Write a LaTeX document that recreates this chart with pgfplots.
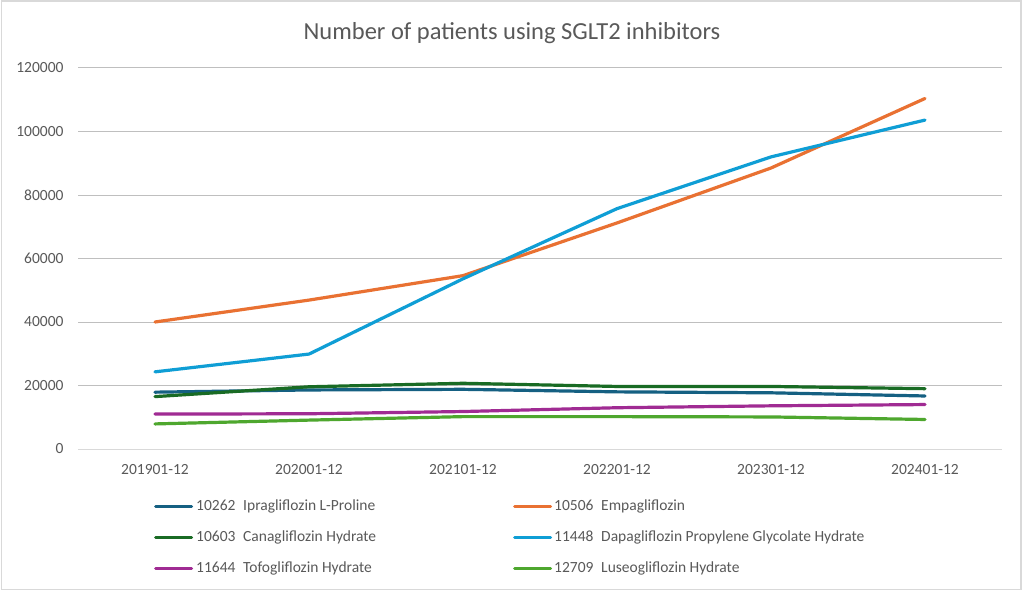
\documentclass[border=0pt]{standalone}
\usepackage{pgfplots}
\pgfplotsset{compat=1.18}
\usepackage{fontspec}
\setmainfont{Carlito}
\definecolor{txt}{HTML}{595959}
\definecolor{grid}{HTML}{D9D9D9}
\definecolor{cA}{HTML}{156082}
\definecolor{cB}{HTML}{E97132}
\definecolor{cC}{HTML}{196B24}
\definecolor{cD}{HTML}{0F9ED5}
\definecolor{cE}{HTML}{A02B93}
\definecolor{cF}{HTML}{4EA72E}
\begin{document}
\begin{tikzpicture}
\path[use as bounding box] (0pt,0pt) rectangle (1024pt,592pt);
\fill[white] (0pt,0pt) rectangle (1024pt,592pt);
\draw[grid, line width=1.2pt] (1.5pt,2.5pt) rectangle (1021pt,591pt);
\node[txt, font=\fontsize{24.5}{28}\selectfont] at (512pt,559pt) {Number of patients using SGLT2 inhibitors};
\begin{axis}[
  at={(78pt,143pt)}, anchor=south west,
  scale only axis, width=924pt, height=381pt,
  xmin=-0.5, xmax=5.5, ymin=0, ymax=120000,
  xtick={0,...,5},
  xticklabels={201901-12,202001-12,202101-12,202201-12,202301-12,202401-12},
  ytick={0,20000,...,120000},
  axis x line*=bottom, axis y line*=left,
  x axis line style={grid, line width=1pt, -},
  y axis line style={draw=none, -},
  xtick style={draw=none}, ytick style={draw=none},
  major tick length=0pt,
  xmajorgrids=false, ymajorgrids=true, grid style={grid, line width=1pt},
  scaled y ticks=false,
  /pgf/number format/fixed,
  /pgf/number format/1000 sep={},
  /pgf/number format/assume math mode=true,
  tick label style={txt, font=\fontsize{15.5}{18}\selectfont},
  yticklabel style={xshift=-11pt},
  xticklabel style={yshift=-12pt},
  every axis plot/.append style={line width=3.2pt, line join=round, line cap=round},
  legend columns=2,
  legend cell align=left,
  legend style={at={(76pt,-50pt)}, anchor=north west, draw=none, fill=none,
    inner sep=0pt, font=\fontsize{15.5}{18}\selectfont, text=txt,
    row sep=17pt,
    nodes={inner sep=0pt, text height=11pt, text depth=3pt}},
  legend image code/.code={\draw[#1, line width=3pt, line cap=round] (0pt,0pt) -- (36pt,0pt);},
]
\addplot[cA] coordinates {(0,17900) (1,18600) (2,18800) (3,18000) (4,17700) (5,16700)};
\addlegendentry{\makebox[320pt][l]{\hspace{3pt}10262\enspace Ipragliflozin L-Proline}}
\addplot[cB] coordinates {(0,40000) (1,46900) (2,54600) (3,71200) (4,88500) (5,110400)};
\addlegendentry{\hspace{2pt}10506\enspace Empagliflozin}
\addplot[cC] coordinates {(0,16500) (1,19600) (2,20700) (3,19700) (4,19700) (5,19000)};
\addlegendentry{\makebox[320pt][l]{\hspace{3pt}10603\enspace Canagliflozin Hydrate}}
\addplot[cD] coordinates {(0,24300) (1,29900) (2,53600) (3,75700) (4,92000) (5,103600)};
\addlegendentry{\hspace{2pt}11448\enspace Dapagliflozin Propylene Glycolate Hydrate}
\addplot[cE] coordinates {(0,11000) (1,11100) (2,11800) (3,13000) (4,13600) (5,14000)};
\addlegendentry{\makebox[320pt][l]{\hspace{3pt}11644\enspace Tofogliflozin Hydrate}}
\addplot[cF] coordinates {(0,7900) (1,9100) (2,10200) (3,10200) (4,10100) (5,9300)};
\addlegendentry{\hspace{2pt}12709\enspace Luseogliflozin Hydrate}
\end{axis}
\end{tikzpicture}
\end{document}
